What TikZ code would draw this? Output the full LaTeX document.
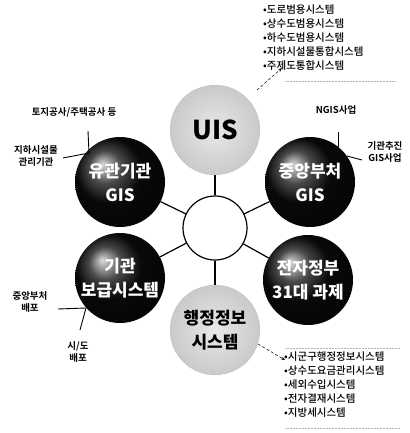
\documentclass[tikz,border=0pt]{standalone}
\usepackage{fontspec}
\setmainfont{Noto Sans CJK KR}
\IfFontExistsTF{Noto Sans CJK KR Bold}
  {\newfontfamily\krbold{Noto Sans CJK KR Bold}}
  {\newfontfamily\krbold{Noto Sans CJK KR}}
\IfFontExistsTF{Noto Sans CJK KR Black}
  {\newfontfamily\krblack{Noto Sans CJK KR Black}}
  {\newfontfamily\krblack{Noto Sans CJK KR}}
\IfFontExistsTF{Noto Sans CJK KR Medium}
  {\newfontfamily\krmed{Noto Sans CJK KR Medium}}
  {\newfontfamily\krmed{Noto Sans CJK KR}}
\usetikzlibrary{arrows.meta}
\tikzset{
  bigball/.style={circle, minimum size=90pt, inner sep=0pt, align=center, font=\krblack\fontsize{17}{24}\selectfont},
  darkball/.style={bigball, shading=ball, ball color=black!95, text=white},
  lightball/.style={bigball, shading=radial, inner color=gray!18, outer color=gray!42, text=black, draw=gray!70, densely dotted},
  hub/.style={circle, draw, line width=1.2pt, minimum size=64pt, inner sep=0pt},
  spoke/.style={line width=1.2pt},
  note/.style={font=\krbold\fontsize{9.5}{12}\selectfont, align=center, inner sep=1pt},
  listtxt/.style={font=\krmed\fontsize{10.5}{14}\selectfont, align=left, anchor=north west, inner sep=0pt},
  leader/.style={line width=0.9pt},
  pointer/.style={densely dashed, line width=0.5pt, -{Stealth[length=4pt]}},
  rule/.style={gray!60, densely dotted, line width=0.5pt}
}
\begin{document}
\begin{tikzpicture}[x=1pt, y=-1pt]
\useasboundingbox (0,0) rectangle (409,433);
\node[hub] (c) at (215,228) {};
\node[lightball, font=\krblack\fontsize{26}{26}\selectfont] (uis) at (215,130) {UIS};
\node[darkball] (yg) at (120,182) {유관기관\\GIS};
\node[darkball] (jb) at (310,182) {중앙부처\\GIS};
\node[darkball] (gb) at (120,278) {기관\\보급시스템};
\node[darkball] (ej) at (308,280) {전자정부\\31대 과제};
\node[lightball] (hj) at (215,330) {행정정보\\시스템};
\foreach \n in {uis,yg,jb,gb,ej,hj} \draw[spoke] (c) -- (\n);

% top list
\node[listtxt] (tl) at (263,5) {•도로범용시스템\\•상수도범용시스템\\•하수도범용시스템\\•지하시설물통합시스템\\•주제도통합시스템};
\coordinate (tla) at (282,68);
\coordinate (tlb) at (257,90);
\draw[pointer] (tlb) -- (tla);
\coordinate (r1a) at (285,81); \coordinate (r1b) at (395,81);
\draw[rule] (r1a) -- (r1b);

% bottom list
\node[listtxt] (bl) at (284,352) {•시군구행정정보시스템\\•상수도요금관리시스템\\•세외수입시스템\\•전자결재시스템\\•지방세시스템};
\coordinate (bla) at (258,344);
\coordinate (blb) at (285,360);
\draw[pointer] (bla) -- (blb);
\coordinate (r2a) at (285,348); \coordinate (r2b) at (400,348);
\coordinate (r3a) at (285,428); \coordinate (r3b) at (400,428);
\draw[rule] (r2a) -- (r2b);
\draw[rule] (r3a) -- (r3b);

% left notes
\node[note] (n1) at (74,112) {토지공사/주택공사 등};
\node[note] (n2) at (36,156) {지하시설물\\관리기관};
\coordinate (p1) at (89,153);
\coordinate (p1a) at (88,131);
\coordinate (p2a) at (63,158);
\draw[leader] (p1a) -- (p1);
\draw[leader] (p2a) -- (p1);

% right notes
\node[note] (n3) at (336,110) {NGIS사업};
\node[note] (n4) at (385,152) {기관추진\\GIS사업};
\coordinate (q1a) at (338,132);
\coordinate (q1b) at (338,147);
\draw[leader] (q1a) -- (q1b);
\coordinate (q2a) at (362,160);
\coordinate (q2b) at (347,156);
\draw[leader] (q2a) -- (q2b);

% lower left notes
\node[note] (n5) at (30,302) {중앙부처\\배포};
\node[note] (n6) at (78,352) {시/도\\배포};
\coordinate (s1) at (86,308);
\coordinate (s1a) at (58,309);
\coordinate (s2a) at (80,330);
\draw[leader] (s1a) -- (s1);
\draw[leader] (s2a) -- (s1);
\end{tikzpicture}
\end{document}
